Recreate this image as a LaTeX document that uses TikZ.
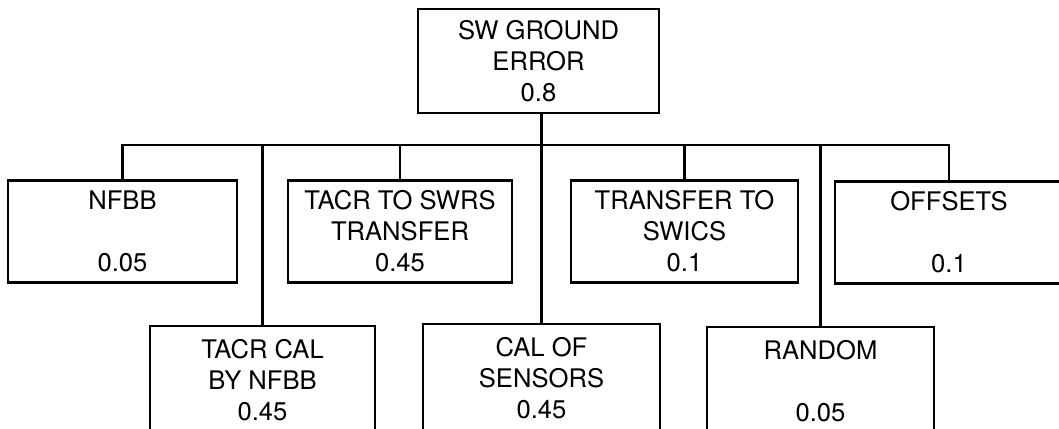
\documentclass[tikz,border=0pt]{standalone}
\usepackage{fontspec}
\setmainfont{TeX Gyre Heros}
\usetikzlibrary{positioning}

\begin{document}
\begin{tikzpicture}[x=0.5pt,y=-0.5pt,line width=1.1pt,
  blk/.style={draw,rectangle,align=center,inner sep=0pt,
    minimum width=114pt,minimum height=51pt,
    font=\fontsize{12.8}{15.5}\selectfont},
  low/.style={blk,minimum height=54pt}]
  \useasboundingbox (0,0) rectangle (1059,428);
  \clip (0,0) rectangle (1059,428);
  % top event
  \node[blk,minimum width=120.5pt,minimum height=52pt] (top) at (538.5,61) {SW GROUND\\ERROR\\0.8};
  % first row
  \node[blk,minimum width=114.5pt] (nfbb) at (122.5,231.5) {NFBB\\[15.5pt]0.05};
  \node[blk,minimum width=112pt] (tacrswrs) at (400,231.5) {TACR TO SWRS\\TRANSFER\\0.45};
  \node[blk,minimum width=113.5pt] (swics) at (684.5,231.5) {TRANSFER TO\\SWICS\\0.1};
  \node[blk] (offsets) at (949,232.5) {OFFSETS\\[15.5pt]0.1};
  % second row, cut off at the bottom
  \node[low,minimum width=112.5pt] (tacrcal) at (262.5,380) {TACR CAL\\BY NFBB\\0.45};
  \node[low,minimum width=118.5pt] (calsens) at (541.5,378) {CAL OF\\SENSORS\\0.45};
  \node[low,minimum width=113.5pt] (random) at (820.5,381) {RANDOM\\[15.5pt]0.05};
  % connectors
  \coordinate (bus) at (0,145);
  \draw (nfbb.north) -- (nfbb.north |- bus) -- (offsets.north |- bus) -- (offsets.north);
  \foreach \n in {tacrswrs,swics,tacrcal,random}
    \draw (\n.north) -- (\n.north |- bus);
  \draw (top.south -| calsens.north) -- (calsens.north);
\end{tikzpicture}
\end{document}
